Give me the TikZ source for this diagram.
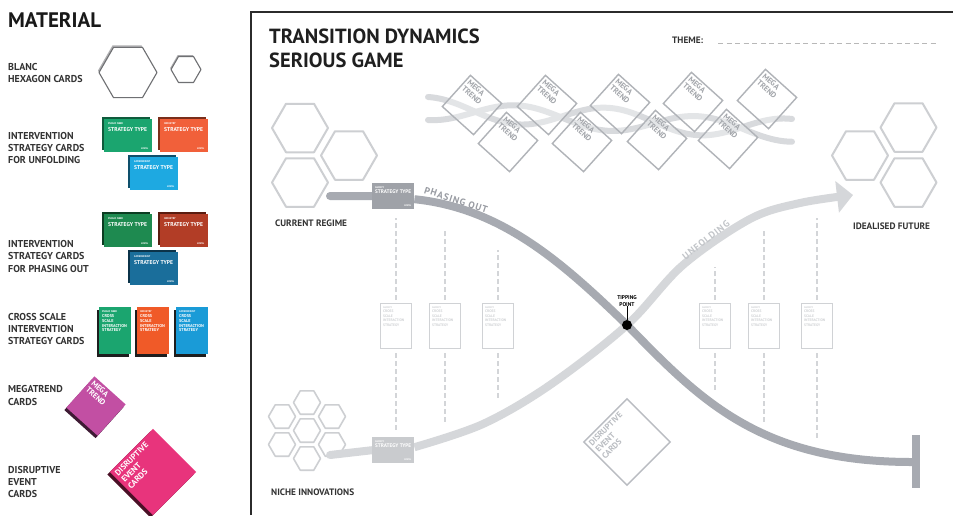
\documentclass[tikz,border=0pt]{standalone}
\usepackage{fontspec}
\setmainfont{PT Sans}
\usetikzlibrary{arrows.meta,calc}
\newcommand\fsz[2]{\fontsize{#1pt}{#2pt}\selectfont}
\definecolor{lbltxt}{HTML}{333333}
\definecolor{framecol}{HTML}{2B2B2B}
\definecolor{hexgray}{HTML}{CDCFD2}
\definecolor{phase}{HTML}{A7AAB1}
\definecolor{phasetxt}{HTML}{989BA2}
\definecolor{unfold}{HTML}{D5D7DA}
\definecolor{unfoldtxt}{HTML}{C2C5C9}
\definecolor{dashgray}{HTML}{D3D5D8}
\definecolor{wavegray}{HTML}{D8DADD}
\definecolor{mtgray}{HTML}{B0B3B8}
\definecolor{mttext}{HTML}{A3A6AB}
\definecolor{ocline}{HTML}{D0D2D5}
\definecolor{cgreen}{HTML}{1BA56F}
\definecolor{cgreenS}{HTML}{0F5B3C}
\definecolor{corange}{HTML}{F1603A}
\definecolor{corangeS}{HTML}{7A2E1A}
\definecolor{cblue}{HTML}{1EA9E1}
\definecolor{cblueS}{HTML}{0E4F6B}
\definecolor{dgreen}{HTML}{1E8A50}
\definecolor{dgreenS}{HTML}{0C3D22}
\definecolor{dred}{HTML}{B23D26}
\definecolor{dredS}{HTML}{5A1C10}
\definecolor{dblue}{HTML}{1A6E9B}
\definecolor{dblueS}{HTML}{0B3349}
\definecolor{xgreen}{HTML}{1BA56F}
\definecolor{xorange}{HTML}{F05A28}
\definecolor{xblue}{HTML}{1A9BD7}
\definecolor{xshadow}{HTML}{1E1E1E}
\definecolor{mtpurple}{HTML}{C24FA3}
\definecolor{mtpurpleS}{HTML}{3E1A34}
\definecolor{dispink}{HTML}{E8347C}
\definecolor{dispinkS}{HTML}{4A1026}
\definecolor{cardgray}{HTML}{9FA2A8}
\definecolor{cardlight}{HTML}{C9CBCE}
\definecolor{matgray}{HTML}{6F7073}
\definecolor{disgray}{HTML}{B9BCC1}

\tikzset{
  lbl/.style={anchor=base west, inner sep=0, font=\bfseries\fsz{10}{11}, text=lbltxt},
  mlbl/.style={anchor=base west, inner sep=0, font=\bfseries\fsz{9.3}{11}, text=lbltxt},
  titletxt/.style={anchor=base west, inner sep=0, font=\bfseries\fsz{20.5}{24}, text=black!88},
  lcardbox/.style={anchor=north west, minimum width=48pt, minimum height=33pt, inner sep=0},
  xcardbox/.style={anchor=north west, minimum width=32pt, minimum height=47pt, inner sep=0},
  gcardbox/.style={anchor=north west, minimum width=42pt, minimum height=26pt, inner sep=0},
  ocardbox/.style={anchor=north west, minimum width=31pt, minimum height=45pt, inner sep=0, draw=ocline, line width=1.1pt, fill=white},
  tinyw/.style={inner sep=0, font=\bfseries\fsz{2.6}{3}, text=white},
  tinyg/.style={inner sep=0, font=\bfseries\fsz{2.6}{3}, text=ocline},
  stw/.style={inner sep=0, font=\bfseries\fsz{5.6}{6}, text=white},
  gtw/.style={inner sep=0, font=\bfseries\fsz{5.2}{6}, text=white},
  xtw/.style={inner sep=0, font=\bfseries\fsz{4.2}{4.9}, text=white, align=left},
  otg/.style={inner sep=0, font=\bfseries\fsz{3.6}{4.5}, text=ocline, align=left},
  hexmain/.style={draw=hexgray, line width=2pt, line join=round},
  wave/.style={draw=wavegray, line width=6pt, line cap=round},
  mtcard/.style={draw=mtgray, line width=1.4pt, minimum size=42pt, inner sep=2pt, rotate=-42, fill=white, fill opacity=0.3, text opacity=1, text=mttext, font=\bfseries\fsz{7.8}{8.3}},
  phaseline/.style={draw=phase, line width=8pt},
  unfoldline/.style={draw=unfold, line width=8pt},
  dashline/.style={draw=dashgray, line width=2pt, dash pattern=on 5pt off 3pt},
}

\newcommand\hexa[4][]{\path[#1, shift={(#2,#3)}] (0:#4) -- (60:#4) -- (120:#4) -- (180:#4) -- (240:#4) -- (300:#4) -- cycle;}

\newcommand\lcard[6]{%
  \fill[#5] (#2-2.5,#3-2.5) rectangle ++(48,33);
  \node[lcardbox, fill=#4] (#1) at (#2,#3) {};
  \node[tinyw, anchor=north west] (#1-h) at ($(#1.north west)+(4,3.5)$) {#6};
  \node[stw, anchor=north west] (#1-t) at ($(#1.north west)+(4,8)$) {STRATEGY TYPE};
  \node[tinyw, anchor=south east] (#1-l) at ($(#1.south east)+(-4,-3)$) {LEVEL};
}
\newcommand\xcard[5]{%
  \fill[xshadow] (#2-2.5,#3+2.5) rectangle ++(32,47);
  \node[xcardbox, fill=#4] (#1) at (#2,#3) {};
  \node[tinyw, anchor=north west] (#1-h) at ($(#1.north west)+(3,3)$) {#5};
  \node[xtw, anchor=north west] (#1-t) at ($(#1.north west)+(3,7)$) {CROSS\\SCALE\\INTERACTION\\STRATEGY};
}
\newcommand\gcard[4]{%
  \node[gcardbox, fill=#4] (#1) at (#2,#3) {};
  \node[tinyw, anchor=north west] (#1-h) at ($(#1.north west)+(3,3)$) {AGENCY};
  \node[gtw, anchor=north west] (#1-t) at ($(#1.north west)+(3,6.5)$) {STRATEGY TYPE};
  \node[tinyw, anchor=south east] (#1-l) at ($(#1.south east)+(-3,-2.5)$) {LEVEL};
}
\newcommand\ocard[3]{%
  \node[ocardbox] (#1) at (#2,#3) {};
  \node[tinyg, anchor=north west] (#1-h) at ($(#1.north west)+(3,3)$) {AGENCY};
  \node[otg, anchor=north west] (#1-t) at ($(#1.north west)+(3,7)$) {CROSS\\SCALE\\INTERACTION\\STRATEGY};
}

\begin{document}
\begin{tikzpicture}[x=1pt,y=-1pt]
\useasboundingbox (0,0) rectangle (953,515);
\fill[white] (0,0) rectangle (953,515);

% ================= LEFT PANEL =================
\node[anchor=base west, inner sep=0, font=\bfseries\fsz{21}{24}, text=black!90] (mat) at (8,27) {MATERIAL};

\node[lbl] (l1a) at (8,70.5) {BLANC};
\node[lbl] (l1b) at (8,82.5) {HEXAGON CARDS};
\node[lbl] (l2a) at (8,139) {INTERVENTION};
\node[lbl] (l2b) at (8,151) {STRATEGY CARDS};
\node[lbl] (l2c) at (8,163) {FOR UNFOLDING};
\node[lbl] (l3a) at (8,247.5) {INTERVENTION};
\node[lbl] (l3b) at (8,259.5) {STRATEGY CARDS};
\node[lbl] (l3c) at (8,272) {FOR PHASING OUT};
\node[lbl] (l4a) at (8,320.5) {CROSS SCALE};
\node[lbl] (l4b) at (8,332.5) {INTERVENTION};
\node[lbl] (l4c) at (8,344.5) {STRATEGY CARDS};
\node[lbl] (l5a) at (8,392.5) {MEGATREND};
\node[lbl] (l5b) at (8,405) {CARDS};
\node[lbl] (l6a) at (8,473.5) {DISRUPTIVE};
\node[lbl] (l6b) at (8,485.5) {EVENT};
\node[lbl] (l6c) at (8,497.5) {CARDS};

% blank hexagons
\hexa[fill=matgray!55]{127}{70.5}{29}
\hexa[draw=matgray, fill=white, line width=1.1pt, line join=round]{128}{72.5}{29}
\hexa[fill=matgray!55]{185.2}{68}{15}
\hexa[draw=matgray, fill=white, line width=1.1pt, line join=round]{186}{69.5}{15}

% strategy cards
\lcard{cu1}{104}{119}{cgreen}{cgreenS}{PUBLIC NEED}
\lcard{cu2}{160}{119}{corange}{corangeS}{INDUSTRY}
\lcard{cu3}{130}{157}{cblue}{cblueS}{GOVERNMENT}
\lcard{cp1}{104}{214}{dgreen}{dgreenS}{PUBLIC NEED}
\lcard{cp2}{160}{214}{dred}{dredS}{INDUSTRY}
\lcard{cp3}{130}{252}{dblue}{dblueS}{GOVERNMENT}

% cross scale cards
\xcard{xc1}{99}{307}{xgreen}{PUBLIC NEED}
\xcard{xc2}{137}{307}{xorange}{INDUSTRY}
\xcard{xc3}{176}{307}{xblue}{GOVERNMENT}

% megatrend card
\node[fill=mtpurpleS, minimum size=42pt, rotate=-42, inner sep=0] (mt-s) at (94,408.5) {};
\node[fill=mtpurple, minimum size=42pt, rotate=-42, inner sep=2.5pt, text=white, font=\bfseries\fsz{7.8}{8.3}] (mt) at (96,406) {\parbox[c][37pt][t]{37pt}{\raggedright MEGA\\TREND}};

% disruptive card
\node[fill=dispinkS, minimum size=61pt, rotate=45, inner sep=0] (ds-s) at (150.5,474.5) {};
\node[fill=dispink, minimum size=61pt, rotate=45, inner sep=3pt, text=white, font=\bfseries\fsz{8.3}{9.2}] (ds) at (153,472) {\parbox[c][55pt][t]{55pt}{\raggedright DISRUPTIVE\\EVENT\\CARDS}};

% ================= RIGHT PANEL =================
\draw[framecol, line width=1.6pt] (250.8,515) -- (250.8,12) -- (953,12);

\node[titletxt] (t1) at (269,43) {TRANSITION DYNAMICS};
\node[titletxt] (t2) at (269,67) {SERIOUS GAME};

\node[mlbl] (theme) at (672,43) {THEME:};
\coordinate (themeA) at (718,43);
\coordinate (themeB) at (937,43);
\draw[draw=black!28, line width=0.9pt, dash pattern=on 5pt off 3.5pt] (themeA) -- (themeB);

% hexagons current regime / idealised future
\hexa[hexmain]{300}{128}{28}
\hexa[hexmain]{349}{155.5}{28}
\hexa[hexmain]{300}{182.5}{28}
\hexa[hexmain]{908.5}{127.5}{28}
\hexa[hexmain]{860}{155.5}{28}
\hexa[hexmain]{908.5}{182.5}{28}

% niche hexagons
\hexa[hexmain, line width=1.6pt]{307}{402.5}{13.5}
\hexa[hexmain, line width=1.6pt]{282}{416.5}{13.5}
\hexa[hexmain, line width=1.6pt]{332}{416.5}{13.5}
\hexa[hexmain, line width=1.6pt]{307}{430.5}{13.5}
\hexa[hexmain, line width=1.6pt]{282}{444.5}{13.5}
\hexa[hexmain, line width=1.6pt]{332}{444.5}{13.5}
\hexa[hexmain, line width=1.6pt]{307}{458.5}{13.5}

% waves
\draw[wave] plot[domain=428:792, samples=90, smooth] (\x, {108 - 11*cos(2*(\x-428)) + 0.06*(\x-428)});
\draw[wave] plot[domain=428:792, samples=90, smooth] (\x, {110 + 10*cos(2*(\x-428)) + 0.06*(\x-428)});

% megatrend cards
\foreach \i/\cx/\cy in {1/472/105, 2/508/142, 3/547/105, 4/582/142, 5/620/104, 6/657/140, 7/693/102, 8/728/139, 9/767/99}{
  \node[mtcard] (mtc\i) at (\cx,\cy) {\parbox[c][37pt][t]{37pt}{\raggedright MEGA\\TREND}};
}

% labels
\node[mlbl] (cur) at (275,226) {CURRENT REGIME};
\node[mlbl] (idf) at (853,229) {IDEALISED FUTURE};
\node[mlbl] (nic) at (271,495) {NICHE INNOVATIONS};

% cross scale outline cards
\ocard{oc1}{380}{303}
\ocard{oc2}{429}{303}
\ocard{oc3}{482}{303}
\ocard{oc4}{699}{303}
\ocard{oc5}{748}{303}
\ocard{oc6}{801}{303}

\draw[dashline] ([yshift=3pt]oc1.north) -- (oc1.north |- 0,218);
\draw[dashline] ([yshift=-4pt]oc1.south) -- (oc1.south |- 0,432);
\draw[dashline] ([yshift=3pt]oc2.north) -- (oc2.north |- 0,230);
\draw[dashline] ([yshift=-4pt]oc2.south) -- (oc2.south |- 0,423);
\draw[dashline] ([yshift=3pt]oc3.north) -- (oc3.north |- 0,250);
\draw[dashline] ([yshift=-4pt]oc3.south) -- (oc3.south |- 0,398);
\draw[dashline] ([yshift=3pt]oc4.north) -- (oc4.north |- 0,267);
\draw[dashline] ([yshift=-4pt]oc4.south) -- (oc4.south |- 0,390);
\draw[dashline] ([yshift=3pt]oc5.north) -- (oc5.north |- 0,230);
\draw[dashline] ([yshift=-4pt]oc5.south) -- (oc5.south |- 0,423);
\draw[dashline] ([yshift=3pt]oc6.north) -- (oc6.north |- 0,218);
\draw[dashline] ([yshift=-4pt]oc6.south) -- (oc6.south |- 0,438);

% disruptive outline card
\node[draw=disgray, line width=1.4pt, minimum size=61pt, rotate=45, inner sep=3pt, text=disgray, font=\bfseries\fsz{8.3}{9.2}] (dsm) at (627,442) {\parbox[c][55pt][t]{55pt}{\raggedright DISRUPTIVE\\EVENT\\CARDS}};

\coordinate (unStart) at (330,455);
\coordinate (unEnd) at (853,195);
\coordinate (poStart) at (330,196);
\coordinate (poEnd) at (912,462);
\coordinate (barTop) at (916,435);
\coordinate (barBot) at (916,488);

% strategy card positions for connectors
\node[gcardbox] (gp0) at (372,183) {};
\node[gcardbox] (gn0) at (372,437) {};
\coordinate (tpc) at (627,325);

% unfolding
\draw[unfoldline, line cap=round] (unStart) -- (gn0.west);
\draw[unfoldline, -{Triangle[width=31pt,length=16pt]}] plot[smooth, tension=0.55] coordinates {([yshift=3pt]gn0.east) (483,424) (550,385) (tpc) (683,265) (750,219) (800,203) (unEnd)};

% phasing out
\draw[phaseline, line cap=round] (poStart) -- (gp0.west);
\draw[phaseline] ([yshift=-3pt]gp0.east) .. controls (500,208) and (560,260) .. (tpc) .. controls (700,400) and (760,462) .. (poEnd);
\draw[phase, line width=8pt] (barTop) -- (barBot);

% cards above lines
\gcard{gp}{372}{183}{cardgray}
\gcard{gn}{372}{437}{cardlight}
\node[circle, fill=black, minimum size=10pt, inner sep=0] (tp) at (tpc) {};

\node[rotate=-18, text=phasetxt, inner sep=0, font=\bfseries\fsz{9.5}{10}\addfontfeature{LetterSpace=10}] (potxt) at (456,200) {PHASING OUT};
\node[rotate=38, text=unfoldtxt, inner sep=0, font=\bfseries\fsz{9.5}{10}\addfontfeature{LetterSpace=10}] (uftxt) at (706,240) {UNFOLDING};

\node[inner sep=0, align=center, font=\bfseries\fsz{5.5}{6.5}] (tptxt) at (627,301) {TIPPING\\POINT};
\draw[line width=0.8pt] (tptxt.south) -- (tp.north);
\end{tikzpicture}
\end{document}
